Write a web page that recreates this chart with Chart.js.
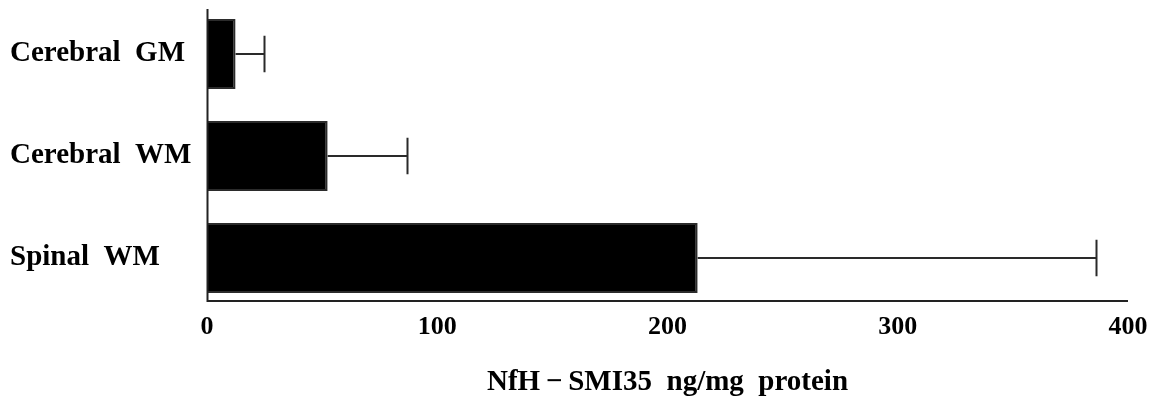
<!DOCTYPE html>
<html>
<head>
<meta charset="utf-8">
<script src="https://cdn.jsdelivr.net/npm/chart.js@4.4.1/dist/chart.umd.min.js"></script>
<style>
  html, body { margin: 0; padding: 0; background: #fff; }
  #wrap { width: 1154px; height: 400px; }
</style>
</head>
<body>
<div id="wrap"><canvas id="grafico"></canvas></div>
<script>
const categorias = ['Cerebral  GM', 'Cerebral  WM', 'Spinal  WM'];
const medias = [12.4, 52.4, 213.1];
const errores = [12.2, 34.3, 172.9];
const ticksX = [0, 100, 200, 300, 400];
const tituloX = 'NfH\u2009\u2212\u2009SMI35  ng/mg  protein';

const fuente = '"Liberation Serif", "DejaVu Serif", serif';

// ejes dibujados a mano (el eje x queda un poco por encima del borde del area)
const ejesPlugin = {
  id: 'ejes',
  afterDatasetsDraw(chart) {
    const ctx = chart.ctx;
    const x = chart.scales.x;
    const area = chart.chartArea;
    const x0 = Math.round(x.getPixelForValue(0)) + 0.5;
    const yBase = area.bottom - 8;
    ctx.save();
    ctx.strokeStyle = '#222';
    ctx.lineWidth = 2;
    ctx.beginPath();
    ctx.moveTo(x0, area.top + 6);
    ctx.lineTo(x0, yBase);
    ctx.lineTo(x.getPixelForValue(400), yBase);
    ctx.stroke();
    ctx.restore();
  }
};

// barras de error (solo lado positivo)
const errorPlugin = {
  id: 'errores',
  afterDatasetsDraw(chart) {
    const ctx = chart.ctx;
    const x = chart.scales.x;
    const meta = chart.getDatasetMeta(0);
    ctx.save();
    ctx.strokeStyle = '#2a2a2a';
    ctx.lineWidth = 2;
    meta.data.forEach((barra, i) => {
      const xIni = x.getPixelForValue(medias[i]);
      const xFin = Math.round(x.getPixelForValue(medias[i] + errores[i])) + 0.5;
      const y = Math.round(barra.y);
      const medio = barra.height * 0.26;
      ctx.beginPath();
      ctx.moveTo(xIni, y);
      ctx.lineTo(xFin, y);
      ctx.moveTo(xFin, y - medio);
      ctx.lineTo(xFin, y + medio);
      ctx.stroke();
    });
    ctx.restore();
  }
};

const ctx = document.getElementById('grafico').getContext('2d');
const myChart = new Chart(ctx, {
  type: 'bar',
  data: {
    labels: categorias,
    datasets: [{
      data: medias,
      backgroundColor: '#000',
      borderColor: '#2b2b2b',
      borderWidth: 2,
      borderSkipped: 'start',
      barPercentage: 0.686,
      categoryPercentage: 1
    }]
  },
  options: {
    indexAxis: 'y',
    responsive: true,
    maintainAspectRatio: false,
    animation: false,
    layout: { padding: { left: 10, right: 26, top: 3, bottom: 0 } },
    plugins: {
      legend: { display: false },
      tooltip: { enabled: false }
    },
    scales: {
      x: {
        type: 'linear',
        min: 0,
        max: 400,
        afterBuildTicks: (scale) => { scale.ticks = ticksX.map(v => ({ value: v })); },
        afterFit: (scale) => {
          scale.height = 91;
          scale.paddingLeft = 0;
          scale.paddingRight = 0;
        },
        grid: { display: false, drawTicks: false },
        border: { display: false },
        ticks: {
          color: '#000',
          padding: 3,
          font: { family: fuente, size: 26, weight: 'bold' }
        },
        title: {
          display: true,
          text: tituloX,
          color: '#000',
          padding: 0,
          font: { family: fuente, size: 29, weight: 'bold' }
        }
      },
      y: {
        afterFit: (scale) => {
          scale.width = 197;
          scale.paddingTop = 0;
          scale.paddingBottom = 0;
        },
        grid: { display: false, drawTicks: false },
        border: { display: false },
        ticks: {
          color: '#000',
          crossAlign: 'far',
          padding: 0,
          font: { family: fuente, size: 29, weight: 'bold' }
        }
      }
    }
  },
  plugins: [errorPlugin, ejesPlugin]
});
</script>
</body>
</html>
